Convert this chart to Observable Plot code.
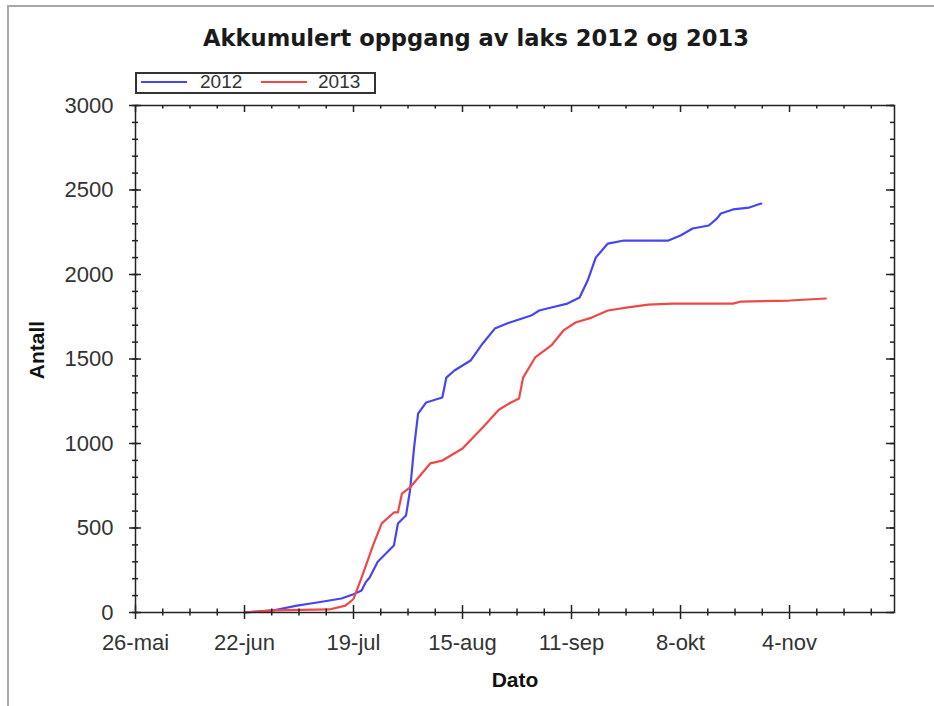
<!DOCTYPE html>
<html>
<head>
<meta charset="utf-8">
<script src="https://cdn.jsdelivr.net/npm/d3@7"></script>
<script src="https://cdn.jsdelivr.net/npm/@observablehq/plot@0.6"></script>
<style>
html,body{margin:0;padding:0;background:#fff;}
#page{position:relative;width:934px;height:706px;overflow:hidden;background:#fff;font-family:"Liberation Sans",Arial,sans-serif;}
#border{position:absolute;left:7px;top:5px;right:-10px;bottom:-10px;border-left:2px solid #a8a8a8;border-top:2px solid #a8a8a8;}
#title{position:absolute;left:0;width:952px;top:27px;text-align:center;font-family:"DejaVu Sans",Verdana,sans-serif;font-weight:bold;font-size:22.6px;line-height:22px;color:#1a1a1a;white-space:nowrap;}
#legend{position:absolute;left:135px;top:72px;width:237px;height:18px;border:2px solid #333;background:#fff;}
.sw{position:absolute;top:7px;width:46px;height:2px;}
.lt{position:absolute;top:-1px;font-size:19px;line-height:18px;color:#333;}
#chart{position:absolute;left:0;top:98px;}
</style>
</head>
<body>
<div id="page">
  <div id="border"></div>
  <div id="title">Akkumulert oppgang av laks 2012 og 2013</div>
  <div id="legend"></div>
  <div id="chart"></div>
</div>
<script>
// Series names and colours
const seriesNames = ["2012", "2013"];
const seriesColors = ["#4646f0", "#f04848"];

// 2012 accumulated count (month-day, value)
const dates2012 = ["06-22","06-29","07-05","07-10","07-16","07-19","07-21","07-22","07-23","07-25","07-29","07-30","08-01","08-02","08-03","08-04","08-06","08-10","08-11","08-13","08-17","08-20","08-23","08-26","09-01","09-03","09-06","09-10","09-13","09-15","09-17","09-20","09-24","10-05","10-08","10-11","10-15","10-17","10-18","10-21","10-25","10-28"];
const values2012 = [0,12,41,59,83,108,130,178,207,300,396,527,574,722,976,1177,1243,1272,1390,1432,1491,1592,1680,1710,1757,1787,1805,1828,1864,1964,2100,2183,2201,2201,2231,2272,2290,2331,2361,2385,2396,2420];

// 2013 accumulated count (month-day, value)
const dates2013 = ["06-22","06-29","07-13","07-17","07-19","07-21","07-24","07-26","07-29","07-30","07-31","08-02","08-07","08-10","08-15","08-20","08-24","08-27","08-29","08-30","09-02","09-06","09-09","09-12","09-16","09-20","09-25","09-30","10-06","10-21","10-23","11-04","11-13"];
const values2013 = [0,12,18,41,80,207,408,527,592,592,704,740,882,899,970,1095,1200,1243,1266,1390,1509,1580,1669,1716,1745,1787,1805,1822,1828,1828,1840,1846,1858];

// Axis ticks
const xTickDates = ["05-26","06-22","07-19","08-15","09-11","10-08","11-04"];
const xTickLabels = ["26-mai","22-jun","19-jul","15-aug","11-sep","8-okt","4-nov"];
const xDomain = ["05-26","11-30"];
const yTicks = [0,500,1000,1500,2000,2500,3000];
const yDomain = [0,3000];

// Common season year used for the date axis
const baseYear = 2013;
const toDate = md => new Date(`${baseYear}-${md}T00:00:00Z`);

const rows = [];
dates2012.forEach((d, i) => rows.push({date: toDate(d), value: values2012[i], series: seriesNames[0]}));
dates2013.forEach((d, i) => rows.push({date: toDate(d), value: values2013[i], series: seriesNames[1]}));

const xMajor = xTickDates.map(toDate);
const labelMap = new Map(xMajor.map((d, i) => [+d, xTickLabels[i]]));
const xMinor = [];
xMajor.forEach(d => { for (let k = 1; k <= 3; k++) xMinor.push(d3.utcHour.offset(d, 162 * k)); });
const xStart = toDate(xDomain[0]);
const xEnd = toDate(xDomain[1]);
const yMinor = d3.range(yDomain[0], yDomain[1] + 1, 100);

const tickStroke = "#222";
const plot = Plot.plot({
  width: 934,
  height: 600,
  marginTop: 7,
  marginBottom: 86,
  marginLeft: 135,
  marginRight: 40,
  style: {fontFamily: "Liberation Sans, Arial, sans-serif", fontSize: "22px", color: "#333", background: "transparent", overflow: "visible"},
  x: {type: "utc", domain: [xStart, xEnd], ticks: xMajor, tickFormat: d => labelMap.get(+d), tickSize: 0, tickPadding: 22, label: null},
  y: {domain: yDomain, ticks: yTicks, tickFormat: d3.format("d"), tickSize: 0, tickPadding: 22, label: null},
  color: {domain: seriesNames, range: seriesColors},
  marks: [
    Plot.line(rows, {x: "date", y: "value", z: "series", stroke: "series", strokeWidth: 2.2}),
    // bottom ticks
    Plot.ruleX(xMajor, {x: d => d, y1: 0, y2: 0, insetTop: -7, insetBottom: -7, stroke: tickStroke, strokeWidth: 1.5}),
    Plot.ruleX(xMinor, {x: d => d, y1: 0, y2: 0, insetTop: -3.5, insetBottom: -3.5, stroke: tickStroke, strokeWidth: 1.5}),
    // top ticks
    Plot.ruleX(xMajor, {x: d => d, y1: 3000, y2: 3000, insetTop: 0, insetBottom: -7, stroke: tickStroke, strokeWidth: 1.5}),
    Plot.ruleX(xMinor, {x: d => d, y1: 3000, y2: 3000, insetTop: 0, insetBottom: -3.5, stroke: tickStroke, strokeWidth: 1.5}),
    // left ticks
    Plot.ruleY(yTicks, {y: d => d, x1: xStart, x2: xStart, insetLeft: -6, insetRight: -6, stroke: tickStroke, strokeWidth: 1.5}),
    Plot.ruleY(yMinor, {y: d => d, x1: xStart, x2: xStart, insetLeft: -3, insetRight: -3, stroke: tickStroke, strokeWidth: 1.5}),
    // right ticks
    Plot.ruleY(yTicks, {y: d => d, x1: xEnd, x2: xEnd, insetLeft: -8, insetRight: 0, stroke: tickStroke, strokeWidth: 1.5}),
    Plot.ruleY(yMinor, {y: d => d, x1: xEnd, x2: xEnd, insetLeft: -4, insetRight: 0, stroke: tickStroke, strokeWidth: 1.5}),
    Plot.frame({stroke: tickStroke, strokeWidth: 1.5}),
    Plot.text(["Antall"], {frameAnchor: "left", text: d => d, rotate: -90, dx: -98, dy: -9, fontWeight: "bold", fontSize: 21, fill: "#111", textAnchor: "middle", lineAnchor: "middle"}),
    Plot.text(["Dato"], {frameAnchor: "bottom", text: d => d, dy: 68, fontWeight: "bold", fontSize: 21, fill: "#111", lineAnchor: "middle"})
  ]
});
document.getElementById("chart").appendChild(plot);

// legend
const legend = document.getElementById("legend");
const swLeft = [4, 124];
const txLeft = [63, 181];
seriesNames.forEach((name, i) => {
  const sw = document.createElement("div");
  sw.className = "sw";
  sw.style.left = swLeft[i] + "px";
  sw.style.background = seriesColors[i];
  legend.appendChild(sw);
  const t = document.createElement("div");
  t.className = "lt";
  t.style.left = txLeft[i] + "px";
  t.textContent = name;
  legend.appendChild(t);
});
</script>
</body>
</html>
